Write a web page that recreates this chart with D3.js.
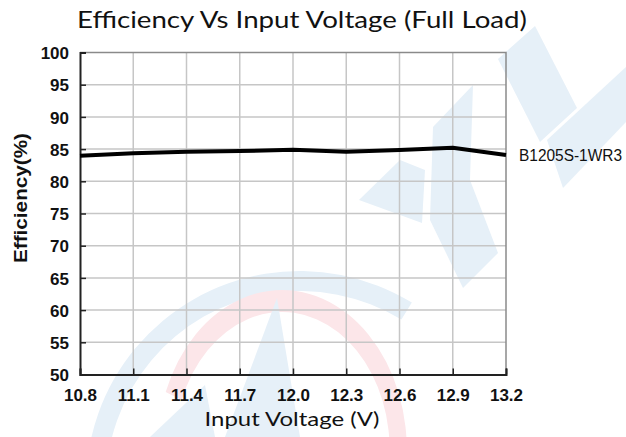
<!DOCTYPE html>
<html>
<head>
<meta charset="utf-8">
<script src="https://cdn.jsdelivr.net/npm/d3@7"></script>
<style>
  html, body { margin: 0; padding: 0; background: #fff; }
  svg { display: block; }
</style>
</head>
<body>
<svg id="chart" width="626" height="437"></svg>
<script>
// ---- data ----
const voltage = [10.8, 11.1, 11.4, 11.7, 12.0, 12.3, 12.6, 12.9, 13.2];
const efficiency = [83.95, 84.35, 84.6, 84.7, 84.9, 84.6, 84.85, 85.2, 84.1];
const seriesName = "B1205S-1WR3";
const xTicks = [10.8, 11.1, 11.4, 11.7, 12.0, 12.3, 12.6, 12.9, 13.2];
const yTicks = [50, 55, 60, 65, 70, 75, 80, 85, 90, 95, 100];
const titleText = "Efficiency Vs Input Voltage (Full Load)";
const xTitle = "Input Voltage (V)";
const yTitle = "Efficiency(%)";

const svg = d3.select("#chart");
const m = { left: 80, right: 506, top: 52.5, bottom: 374.5 };
const x = d3.scaleLinear().domain([10.8, 13.2]).range([m.left, m.right]);
const y = d3.scaleLinear().domain([50, 100]).range([m.bottom, m.top]);

// ---- watermark (decorative background logo) ----
const wm = svg.append("g").attr("class", "watermark");
const blue = "#e6f0f8", pink = "#fce6e9";
wm.append("path")
  .attr("transform", "translate(300,485)")
  .attr("d", d3.arc()({ innerRadius: 194, outerRadius: 214, startAngle: -2.3, endAngle: 0.55 }))
  .attr("fill", blue);
wm.append("path")
  .attr("transform", "translate(282,450) scale(0.78,1)")
  .attr("d", d3.arc()({ innerRadius: 138, outerRadius: 160, startAngle: -1.2, endAngle: 2.3 }))
  .attr("fill", pink);
const polys = [
  [[277,298],[300,437],[225,437]],
  [[150,437],[205,385],[215,437]],
  [[498,59],[535,26],[577,108],[540,142]],
  [[547,140],[626,67],[626,122],[563,188]],
  [[433,127],[473,85],[470,180],[498,253],[463,288],[430,220]],
  [[359,200],[400,160],[425,170],[422,223]]
];
polys.forEach(p => wm.append("polygon").attr("points", p.map(d => d.join(",")).join(" ")).attr("fill", blue));

// ---- grid ----
const grid = svg.append("g").attr("stroke", "#c6c6c6").attr("stroke-width", 1.5);
xTicks.slice(1, -1).forEach(t => grid.append("line")
  .attr("x1", x(t)).attr("x2", x(t)).attr("y1", m.top).attr("y2", m.bottom));
yTicks.slice(1, -1).forEach(t => grid.append("line")
  .attr("x1", m.left).attr("x2", m.right).attr("y1", y(t)).attr("y2", y(t)));

svg.append("path")
  .attr("d", `M${m.left},${m.top}H${m.right}V${m.bottom}`)
  .attr("fill", "none").attr("stroke", "#8a8a8a").attr("stroke-width", 1.5);

// ---- axes ----
const xAxis = svg.append("g").attr("transform", `translate(0,${m.bottom})`)
  .call(d3.axisBottom(x).tickValues(xTicks).tickSize(-6).tickPadding(14).tickFormat(d3.format(".1f")));
const yAxis = svg.append("g").attr("transform", `translate(${m.left},0)`)
  .call(d3.axisLeft(y).tickValues(yTicks).tickSize(-6).tickPadding(11).tickFormat(d3.format("d")));
[xAxis, yAxis].forEach(a => {
  a.select(".domain").attr("stroke", "#222").attr("stroke-width", 2);
  a.selectAll(".tick line").attr("stroke", "#222").attr("stroke-width", 1.5);
  a.selectAll(".tick text")
    .attr("font-family", "'Liberation Sans', Arial, sans-serif")
    .attr("font-weight", "bold").attr("font-size", 17).attr("fill", "#111");
});
yAxis.selectAll(".tick text").attr("dy", "0.36em");

// ---- line ----
const pts = voltage.map((v, i) => [v, efficiency[i]]);
svg.append("path")
  .datum(pts)
  .attr("d", d3.line().x(d => x(d[0])).y(d => y(d[1])))
  .attr("fill", "none").attr("stroke", "#000").attr("stroke-width", 4)
  .attr("stroke-linejoin", "round");

svg.append("text")
  .attr("x", 519).attr("y", y(efficiency[efficiency.length - 1]) + 6)
  .attr("font-family", "'Liberation Sans', Arial, sans-serif")
  .attr("font-size", 16).attr("fill", "#111")
  .attr("textLength", 103).attr("lengthAdjust", "spacingAndGlyphs")
  .text(seriesName);

// ---- titles ----
svg.append("text")
  .attr("x", 302).attr("y", 28).attr("text-anchor", "middle")
  .attr("font-family", "Lato, 'Open Sans', sans-serif").attr("font-size", 24)
  .attr("fill", "#111")
  .attr("textLength", 450).attr("lengthAdjust", "spacingAndGlyphs")
  .text(titleText);

svg.append("text")
  .attr("x", 292).attr("y", 426).attr("text-anchor", "middle")
  .attr("font-family", "Lato, 'Open Sans', sans-serif").attr("font-size", 20)
  .attr("fill", "#111")
  .attr("textLength", 175).attr("lengthAdjust", "spacingAndGlyphs")
  .text(xTitle);

svg.append("text")
  .attr("transform", "translate(27,198) rotate(-90)")
  .attr("text-anchor", "middle")
  .attr("font-family", "'Liberation Sans', Arial, sans-serif")
  .attr("font-weight", "bold").attr("font-size", 18).attr("fill", "#111")
  .attr("textLength", 130).attr("lengthAdjust", "spacingAndGlyphs")
  .text(yTitle);
</script>
</body>
</html>
